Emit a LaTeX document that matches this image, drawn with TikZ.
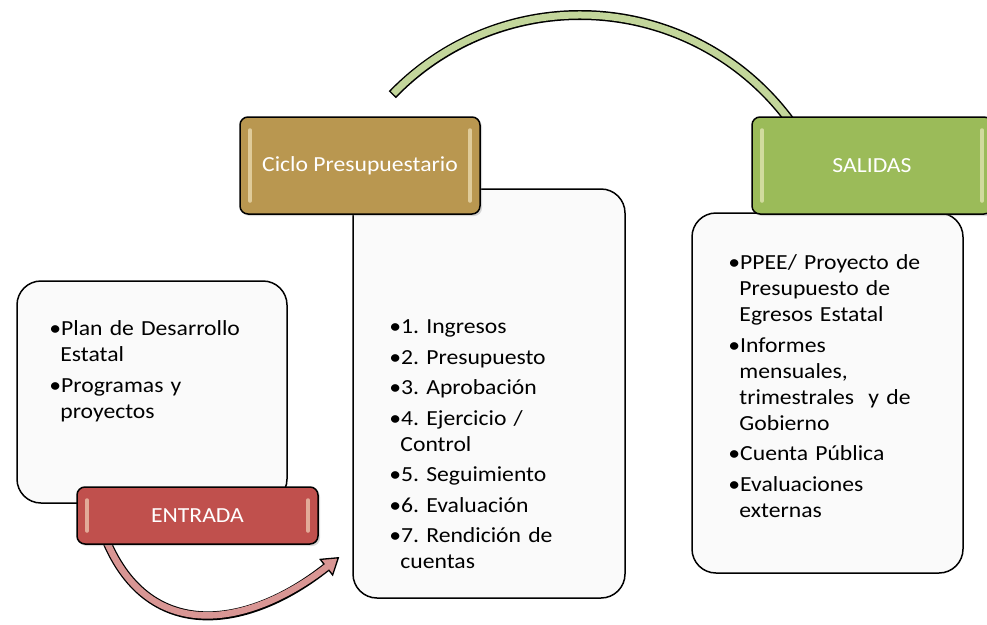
\documentclass[tikz,border=0pt]{standalone}
\usepackage{fontspec}
\setmainfont[FakeStretch=1.1]{Carlito}
\usetikzlibrary{arrows.meta, positioning, shadows}

\definecolor{entradared}{HTML}{C0504D}
\definecolor{ciclogold}{HTML}{B99750}
\definecolor{salidasgreen}{HTML}{9BBB59}
\definecolor{arcgreen}{HTML}{C3D69B}
\definecolor{arrowpink}{HTML}{D99694}
\definecolor{listfill}{HTML}{FAFAFA}
\definecolor{bevellight}{HTML}{FFF6D8}

% one bullet item with hanging indent
\newcommand{\bul}[1]{\par\hangindent=11pt\hangafter=1\noindent\textbullet#1\par}

\tikzset{
    listbox/.style 2 args={
        draw=black,
        line width=1.5pt,
        fill=listfill,
        rounded corners=24pt,
        minimum width=#1,
        minimum height=#2
    },
    listtext/.style={
        inner sep=0pt,
        text width=250pt,
        align=left,
        font=\fontsize{21.5}{26}\selectfont,
        execute at begin node={\frenchspacing\setlength{\parskip}{4.5pt}}
    },
    stage/.style={
        draw=black,
        line width=1.5pt,
        fill=#1,
        rounded corners=8pt,
        text=white,
        font=\fontsize{21.5}{26}\selectfont,
        drop shadow={opacity=0.3, shadow xshift=2pt, shadow yshift=-2pt},
        path picture={
            \draw[bevellight, opacity=0.55, line width=3.5pt, line cap=round]
                ([xshift=10pt, yshift=-13pt]path picture bounding box.north west)
                -- ([xshift=10pt, yshift=13pt]path picture bounding box.south west);
            \draw[bevellight, opacity=0.55, line width=3.5pt, line cap=round]
                ([xshift=-10pt, yshift=-13pt]path picture bounding box.north east)
                -- ([xshift=-10pt, yshift=13pt]path picture bounding box.south east);
        }
    }
}

\begin{document}
\begin{tikzpicture}[x=1pt, y=-1pt]
    \useasboundingbox (0, 0) rectangle (987, 624);

    % content boxes
    \node[listbox={270pt}{222pt}] (inbox) at (152, 392) {};
    \node[listbox={272pt}{409pt}] (ciclobox) at (489, 393.5) {};
    \node[listbox={271pt}{360pt}] (outbox) at (827.5, 393) {};

    % arc towards SALIDAS
    \coordinate (arcstart) at (392.3, 94.7);
    \draw[black, line width=10pt] (arcstart) arc[start angle=136, end angle=35, radius=261pt];
    \draw[arcgreen, line width=7pt, shorten <=1.5pt] (arcstart) arc[start angle=136, end angle=35, radius=261pt];

    % arrow from ENTRADA to the cycle
    \coordinate (arrowstart) at (106, 540);
    \coordinate (arrowend) at ([xshift=-13pt]ciclobox.west |- 0,557);
    \draw[
        black,
        line width=9pt,
        -{Triangle[length=17pt, width=22pt, line width=1.3pt, fill=arrowpink]}
    ] (arrowstart) .. controls (150, 645) and (250, 628) .. (arrowend);
    \draw[
        arrowpink,
        line width=6.5pt,
        shorten >=11pt
    ] (arrowstart) .. controls (150, 645) and (250, 628) .. (arrowend);

    % stage labels
    \node[stage=entradared, minimum width=241pt, minimum height=57pt] (entrada) at (197.5, 515.5) {ENTRADA};
    \node[stage=ciclogold, minimum width=240pt, minimum height=97pt] (ciclo) at (360, 165.5) {Ciclo Presupuestario};
    \node[stage=salidasgreen, minimum width=240pt, minimum height=97pt] (salidas) at (872, 165.5) {SALIDAS};

    % lists
    \node[listtext, below right=25pt and 33pt of inbox.north west] (intext) {%
        \bul{Plan de Desarrollo\newline Estatal}
        \bul{Programas y\newline proyectos}};
    \node[listtext, below right=115pt and 37pt of ciclobox.north west] (ciclotext) {%
        \bul{1. Ingresos}
        \bul{2. Presupuesto}
        \bul{3. Aprobación}
        \bul{4. Ejercicio /\newline Control}
        \bul{5. Seguimiento}
        \bul{6. Evaluación}
        \bul{7. Rendición de\newline cuentas}};
    \node[listtext, below right=27pt and 37pt of outbox.north west] (outtext) {%
        \bul{PPEE/ Proyecto de\newline Presupuesto de\newline Egresos Estatal}
        \bul{Informes\newline mensuales,\newline trimestrales~ y de\newline Gobierno}
        \bul{Cuenta Pública}
        \bul{Evaluaciones\newline externas}};
\end{tikzpicture}
\end{document}
